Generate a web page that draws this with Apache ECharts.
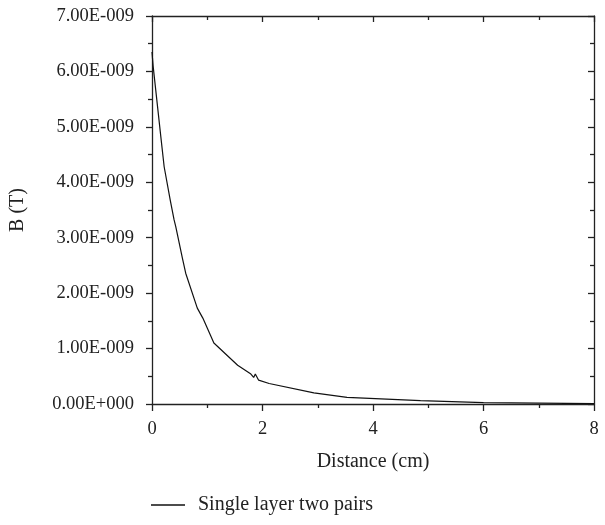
<!DOCTYPE html>
<html>
<head>
<meta charset="utf-8">
<script src="https://cdn.jsdelivr.net/npm/echarts@6/dist/echarts.min.js"></script>
<style>html,body{margin:0;padding:0;background:#fff;}#c{width:605px;height:525px;}</style>
</head>
<body>
<div id="c"></div>
<script>
var seriesName = 'Single layer two pairs';
var distance = [0, 0.02, 0.16, 0.22, 0.33, 0.40, 0.43, 0.55, 0.61, 0.82, 0.92, 1.12, 1.55, 1.79, 1.84, 1.87, 1.93, 2.12, 2.93, 3.53, 4.86, 6.0, 8.0];
var fieldB = [6.35e-9, 6.1e-9, 4.82e-9, 4.28e-9, 3.68e-9, 3.32e-9, 3.20e-9, 2.63e-9, 2.36e-9, 1.73e-9, 1.55e-9, 1.10e-9, 0.70e-9, 0.54e-9, 0.48e-9, 0.54e-9, 0.43e-9, 0.37e-9, 0.20e-9, 0.12e-9, 0.06e-9, 0.024e-9, 0.005e-9];
var xTicks = [0, 2, 4, 6, 8];
var yTicks = ['0.00E+000','1.00E-009','2.00E-009','3.00E-009','4.00E-009','5.00E-009','6.00E-009','7.00E-009'];

var pts = distance.map(function (d, i) { return [d, fieldB[i]]; });
var FONT = 'Liberation Serif';
var FS = 18.5;
var FN = 20;
var AX = '#222';

function fmtY(v) {
  var idx = Math.round(v / 1e-9);
  return yTicks[idx] !== undefined ? yTicks[idx] : '';
}

var chart = echarts.init(document.getElementById('c'), null, {renderer: 'canvas'});
chart.setOption({
  animation: false,
  backgroundColor: '#fff',
  grid: {left: 151, right: 11, top: 16, bottom: 121, containLabel: false},
  legend: {
    left: 146, top: 490,
    itemWidth: 34, itemHeight: 1.3,
    textStyle: {fontFamily: FONT, fontSize: FN, color: '#222', padding: [0, 0, 0, 8]},
    data: [{name: seriesName, icon: 'rect', itemStyle: {color: '#111'}}]
  },
  xAxis: [{
    type: 'value', min: 0, max: 8, interval: 2, position: 'bottom',
    name: 'Distance (cm)', nameLocation: 'middle', nameGap: 48,
    nameTextStyle: {fontFamily: FONT, fontSize: FN, color: '#222'},
    axisLine: {show: true, lineStyle: {color: AX, width: 1.3}},
    axisTick: {show: true, inside: false, length: 7, lineStyle: {color: AX, width: 1.3}},
    minorTick: {show: true, splitNumber: 2, length: 4, lineStyle: {color: AX, width: 1.3}},
    axisLabel: {fontFamily: FONT, fontSize: FS, color: '#222', margin: 16,
      formatter: function (v) { return xTicks.indexOf(v) >= 0 ? String(v) : ''; }},
    splitLine: {show: false}
  }, {
    type: 'value', min: 0, max: 8, interval: 2, position: 'top',
    axisLine: {show: true, onZero: false, lineStyle: {color: AX, width: 1.3}},
    axisTick: {show: true, inside: true, length: 6, lineStyle: {color: AX, width: 1.3}},
    minorTick: {show: true, splitNumber: 2, length: 4, lineStyle: {color: AX, width: 1.3}},
    axisLabel: {show: false},
    splitLine: {show: false}
  }],
  yAxis: [{
    type: 'value', min: 0, max: 7e-9, interval: 1e-9, position: 'left',
    name: 'B (T)', nameLocation: 'middle', nameGap: 124, nameRotate: 90,
    nameTextStyle: {fontFamily: FONT, fontSize: FN, color: '#222'},
    axisLine: {show: true, lineStyle: {color: AX, width: 1.3}},
    axisTick: {show: true, inside: false, length: 6, lineStyle: {color: AX, width: 1.3}},
    minorTick: {show: true, splitNumber: 2, length: 4, lineStyle: {color: AX, width: 1.3}},
    axisLabel: {fontFamily: FONT, fontSize: FS, color: '#222', margin: 18, formatter: fmtY},
    splitLine: {show: false}
  }, {
    type: 'value', min: 0, max: 7e-9, interval: 1e-9, position: 'right',
    axisLine: {show: true, onZero: false, lineStyle: {color: AX, width: 1.3}},
    axisTick: {show: true, inside: true, length: 6, lineStyle: {color: AX, width: 1.3}},
    minorTick: {show: true, splitNumber: 2, length: 4, lineStyle: {color: AX, width: 1.3}},
    axisLabel: {show: false},
    splitLine: {show: false}
  }],
  series: [{
    name: seriesName, type: 'line', data: pts,
    xAxisIndex: 0, yAxisIndex: 0,
    symbol: 'none', smooth: false,
    lineStyle: {color: '#111', width: 1.2},
    itemStyle: {color: '#111'}
  }]
});
</script>
</body>
</html>
